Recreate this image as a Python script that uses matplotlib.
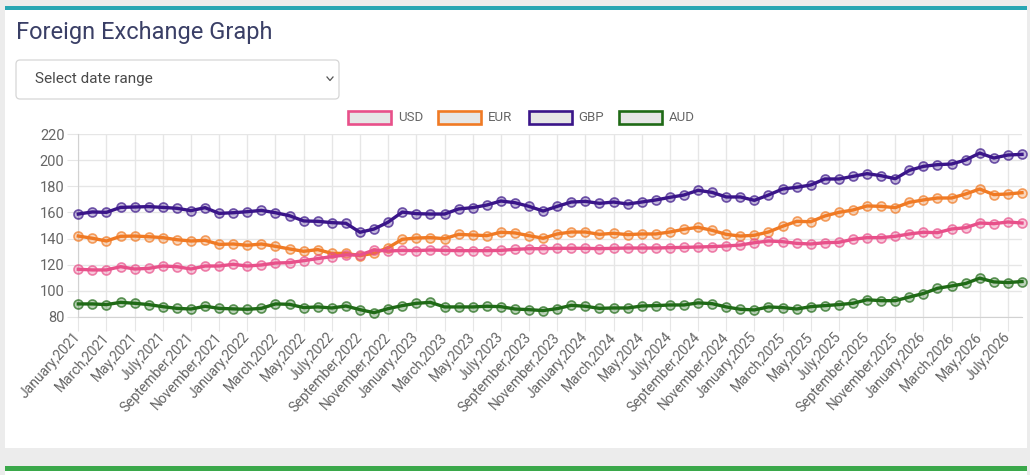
import matplotlib
matplotlib.use("Agg")
import matplotlib.pyplot as plt
import pandas as pd
from matplotlib.patches import Rectangle, FancyBboxPatch
from matplotlib.lines import Line2D
from matplotlib.transforms import IdentityTransform

W, H = 1030, 475
plt.rcParams['font.family'] = ['Roboto', 'DejaVu Sans']

# monthly categories, Jan 2021 .. Aug 2026
months = [d.strftime("%B,%Y") for d in pd.date_range("2021-01-01", "2026-08-01", freq="MS")]

usd = [116.4, 115.9, 115.9, 118.4, 116.6, 117.1, 118.9, 118.4, 116.6, 118.9, 118.9, 120.2,
       118.9, 119.7, 121.2, 121.5, 123.0, 124.6, 126.1, 127.4, 127.4, 131.2, 130.4,
       130.9, 130.7, 131.2, 130.9, 130.7, 130.7, 130.7, 130.9, 131.7, 132.2, 132.2,
       132.5, 132.5, 132.5, 132.2, 132.5, 132.7, 132.7, 132.7, 133.0, 133.2, 133.5,
       133.8, 134.3, 135.0, 136.8, 138.1, 137.6, 136.3, 135.8, 136.8, 137.1, 139.4,
       140.7, 140.7, 141.7, 143.5, 144.8, 144.5, 147.3, 148.3, 151.9, 151.4, 152.7, 151.9]
eur = [141.9, 140.2, 138.1, 141.7, 141.9, 141.4, 140.7, 139.1, 138.1, 138.6, 135.5, 135.8,
       134.8, 135.8, 134.0, 132.0, 130.2, 131.5, 128.6, 128.6, 126.9, 128.7, 133.0,
       139.4, 140.4, 140.7, 139.9, 143.2, 142.7, 142.2, 144.8, 144.3, 142.2, 140.2,
       143.5, 145.0, 145.0, 143.2, 144.0, 143.0, 143.5, 143.5, 145.0, 147.1, 148.6,
       146.3, 143.2, 141.9, 142.5, 145.0, 149.4, 153.2, 152.9, 157.3, 160.1, 161.9,
       165.0, 164.7, 163.7, 167.8, 169.6, 171.1, 171.1, 174.2, 178.0, 173.7, 174.2, 175.2]
gbp = [158.8, 160.4, 160.1, 163.9, 164.2, 164.5, 163.9, 163.2, 161.4, 163.7, 159.3, 159.8,
       160.6, 161.6, 159.8, 157.5, 153.5, 153.2, 152.2, 151.7, 144.8, 147.3, 152.6,
       160.3, 159.1, 158.8, 158.8, 162.7, 163.7, 165.7, 168.8, 167.5, 164.7, 161.1,
       164.7, 168.0, 168.5, 167.0, 168.0, 166.5, 168.0, 169.6, 171.6, 173.4, 177.0,
       175.4, 171.9, 171.9, 169.3, 173.4, 178.0, 179.3, 181.1, 185.7, 185.7, 187.7,
       189.8, 188.2, 185.9, 192.3, 195.4, 196.7, 197.2, 200.3, 205.6, 201.8, 204.1, 204.6]
aud = [89.8, 89.8, 89.3, 91.0, 90.3, 89.3, 87.7, 86.4, 85.9, 88.0, 86.4, 86.0,
       85.7, 86.4, 89.8, 89.5, 87.0, 87.5, 86.7, 88.2, 85.4, 83.1, 86.2,
       88.5, 90.3, 91.0, 87.5, 87.5, 87.5, 88.0, 87.7, 85.9, 85.4, 84.7,
       86.2, 88.7, 88.0, 86.4, 86.7, 86.7, 88.2, 88.5, 89.0, 89.0, 90.6,
       90.0, 87.5, 85.7, 85.2, 87.5, 87.0, 85.9, 87.7, 88.5, 89.3, 90.3,
       93.0, 92.3, 92.3, 95.1, 97.8, 101.8, 103.6, 105.5, 109.6, 106.7, 106.2, 107.0]

series_names = ["USD", "EUR", "GBP", "AUD"]
series_vals = [usd, eur, gbp, aud]
series_colors = ["#e8508a", "#f07a24", "#3a1589", "#1f6a16"]

y_ticks = [80, 100, 120, 140, 160, 180, 200, 220]

fig = plt.figure(figsize=(W / 100, H / 100), dpi=100)
fig.patch.set_facecolor("#ececec")
px = IdentityTransform()

def box(x0, y0, x1, y1, z=-5, **kw):
    # rectangle in top-down pixel coords
    fig.add_artist(Rectangle((x0, H - y1), x1 - x0, y1 - y0, transform=px, zorder=z, **kw))

# card + coloured strips
box(5, 6, 1027, 448, facecolor="white", edgecolor="none")
box(5, 6, 1027, 10, facecolor="#28a6b3", edgecolor="none")
box(5, 466, 1027, 471, facecolor="#3aa84a", edgecolor="none")
box(5, 471, 1027, 476, facecolor="white", edgecolor="none")

fig.text(16 / W, 1 - 32 / H, "Foreign Exchange Graph", fontsize=17, color="#3a3f66", va="center")

# select box
fig.add_artist(FancyBboxPatch((16, H - 99), 323, 39, boxstyle="round,pad=0,rounding_size=4",
                              transform=px, facecolor="white", edgecolor="#d6d6d6", lw=0.9))
fig.text(35 / W, 1 - 79.5 / H, "Select date range", fontsize=11, color="#4a4a4a", va="center")
fig.add_artist(Line2D([327, 330, 333], [H - 77, H - 80.5, H - 77], transform=px, color="#555555", lw=0.9))

# legend
for i, (name, col) in enumerate(zip(series_names, series_colors)):
    bx = 348 + 90.3 * i
    box(bx, 111, bx + 43, 124, z=2, facecolor="#e6e6e6", edgecolor=col, lw=1.9)
    fig.text((bx + 50) / W, 1 - 117.5 / H, name, fontsize=9.5, color="#666666", va="center")

ax = fig.add_axes([78.3 / W, 1 - 316.7 / H, (1022 - 78.3) / W, (316.7 - 134.3) / H])
ax.set_facecolor("none")
ax.set_zorder(3)
x = list(range(len(months)))
for k in range(len(series_names) - 1, -1, -1):
    col = series_colors[k]
    ax.plot(x, series_vals[k], color=col, lw=2.4, zorder=3 + (3 - k),
            marker="o", ms=6.5, mew=1.2, mfc=matplotlib.colors.to_rgba(col, 0.3),
            mec=matplotlib.colors.to_rgba(col, 0.7), clip_on=False)

ax.set_xlim(0, len(months) - 1)
ax.set_ylim(80, 220)
ax.set_yticks(y_ticks)
ax.set_xticks(x[::2])
ax.set_xticklabels(months[::2], rotation=48, ha="right", va="center", rotation_mode="anchor")
ax.grid(True, color="#e6e6e6", lw=1)
ax.set_axisbelow(True)
for s in ["top", "right"]:
    ax.spines[s].set_visible(False)
for s in ["left", "bottom"]:
    ax.spines[s].set_color("#d2d2d2")
ax.tick_params(axis="x", length=10, color="#e6e6e6", labelcolor="#666666", labelsize=10, pad=3)
ax.tick_params(axis="y", length=8, color="#e6e6e6", labelcolor="#666666", labelsize=10.5, pad=2)

fig.savefig("out.png", dpi=100, facecolor=fig.get_facecolor())
